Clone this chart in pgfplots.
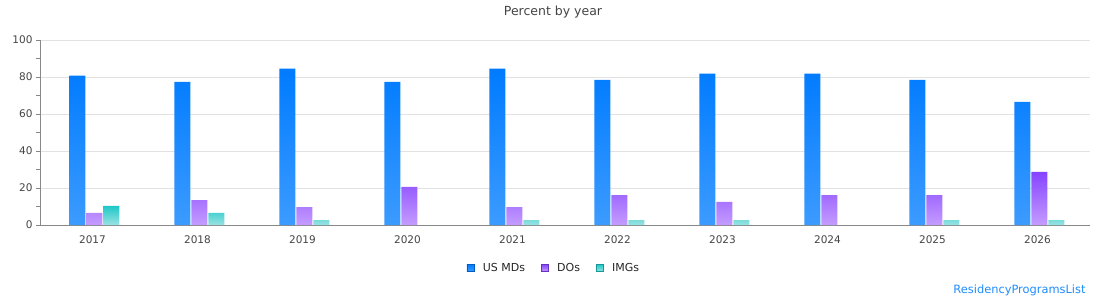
\documentclass[border=0pt]{standalone}
\usepackage{fontspec}
\setmainfont{DejaVu Sans}
\usepackage{pgfplots}
\pgfplotsset{compat=1.18}
\definecolor{mdtop}{RGB}{0,123,255}
\definecolor{mdbot}{RGB}{60,155,255}
\definecolor{dotop}{RGB}{134,68,255}
\definecolor{dobot}{RGB}{196,156,255}
\definecolor{imgtop}{RGB}{30,200,200}
\definecolor{imgbot}{RGB}{155,226,226}
\definecolor{axisgray}{RGB}{136,136,136}
\definecolor{gridgray}{RGB}{226,226,226}
\definecolor{textgray}{RGB}{68,68,68}
\definecolor{wmblue}{RGB}{30,140,255}
\begin{document}
\begin{tikzpicture}[x=1pt,y=1pt]
\path[use as bounding box] (0,0) rectangle (1110,300);
\begin{axis}[
  at={(40pt,75pt)}, anchor=south west,
  scale only axis, width=1050pt, height=185pt,
  ybar=1pt, bar width=16pt,
  xmin=-0.5, xmax=9.5, ymin=0, ymax=100,
  xtick={0,...,9},
  xticklabels={2017,2018,2019,2020,2021,2022,2023,2024,2025,2026},
  ytick={0,20,40,60,80,100},
  minor ytick={10,30,50,70,90},
  axis lines*=left,
  axis line style={axisgray, line width=0.8pt},
  x axis line style={-}, y axis line style={-},
  tick style={axisgray, line width=0.8pt},
  major tick length=4pt, minor tick length=4pt,
  tickpos=left, xtick style={draw=none},
  ytick align=outside,
  ymajorgrids, major grid style={gridgray, line width=0.8pt},
  tick label style={font=\fontsize{10.5}{12}\selectfont, text=textgray},
  /pgf/number format/assume math mode=true,
  xticklabel style={yshift=-3pt},
  legend columns=3,
  legend style={at={(0.4895,-0.232)}, anchor=center, draw=none, fill=none,
    font=\fontsize{11}{13}\selectfont, text=black!85,
    /tikz/every even column/.append style={column sep=14pt}},
  clip=false,
]
\addplot[draw=none, top color=mdtop, bottom color=mdbot, bar shift=-15pt,
  legend image code/.code={\draw[fill=mdtop,draw=mdtop!75!black,line width=0.5pt] (0pt,-3.5pt) rectangle (7pt,3.5pt); \path (13.9pt,0pt);}] coordinates {
(0,80.7) (1,77.4) (2,84.5) (3,77.4) (4,84.5) (5,78.5) (6,81.8) (7,81.8) (8,78.5) (9,66.6)};
\addplot[draw=none, top color=dotop, bottom color=dobot, bar shift=2pt,
  legend image code/.code={\draw[fill=dotop,draw=dotop!75!black,line width=0.5pt] (0pt,-3.5pt) rectangle (7pt,3.5pt); \path (13.9pt,0pt);}] coordinates {
(0,6.5) (1,13.5) (2,9.7) (3,20.6) (4,9.7) (5,16.2) (6,12.5) (7,16.2) (8,16.2) (9,28.7)};
\addplot[draw=none, top color=imgtop, bottom color=imgbot, bar shift=19pt,
  legend image code/.code={\draw[fill=imgtop,draw=imgtop!75!black,line width=0.5pt] (0pt,-3.5pt) rectangle (7pt,3.5pt); \path (13.9pt,0pt);}] coordinates {
(0,10.3) (1,6.5) (2,2.7) (4,2.7) (5,2.7) (6,2.7) (8,2.7) (9,2.7)};
\legend{US MDs, DOs, IMGs}
\end{axis}
\node[font=\fontsize{12.5}{14}\selectfont, text=textgray] at (553,288) {Percent by year};
\node[font=\fontsize{11.4}{13}\selectfont, text=wmblue, anchor=east] at (1089,10) {ResidencyProgramsList};
\end{tikzpicture}
\end{document}
